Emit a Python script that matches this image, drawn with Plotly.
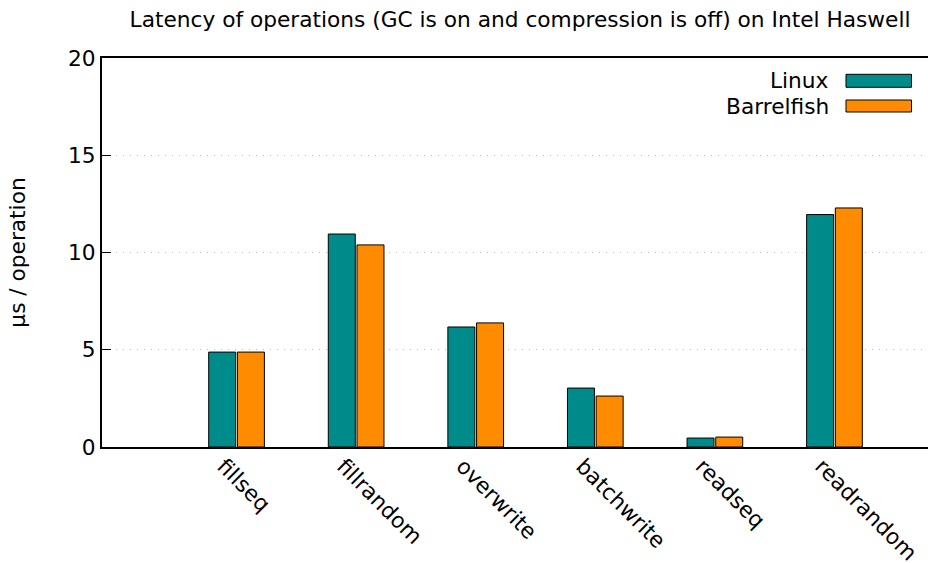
import plotly.graph_objects as go

categories = ["fillseq", "fillrandom", "overwrite", "batchwrite", "readseq", "readrandom"]
linux = [4.88, 10.95, 6.17, 3.03, 0.46, 11.95]
barrelfish = [4.88, 10.39, 6.38, 2.62, 0.51, 12.29]
series_names = ["Linux", "Barrelfish"]
colors = ["#008B8B", "#FF8C00"]
ytick_vals = [0, 5, 10, 15, 20]

FONT = "DejaVu Sans"
FS = 21.7

FIG_W, FIG_H = 928, 563

x = list(range(len(categories)))

fig = go.Figure()
for name, vals, col in zip(series_names, [linux, barrelfish], colors):
    fig.add_trace(go.Bar(
        x=x, y=vals, name=name,
        marker=dict(color=col, line=dict(color="#000000", width=1)),
        showlegend=False,
    ))

# plot area in screen pixels
L, R, T, B = 102, 928, 58, 447
W, H = R - L, B - T
def px(xp):
    return (xp - L) / W
def py(yp):
    return (B - yp) / H

# manual gnuplot-style legend (text left, sample box to the right)
legend_rows = [(80.7, 74.3, 87.3), (106.0, 100.0, 112.0)]
shapes = []
annotations = []
for (yc, y0, y1), name, col in zip(legend_rows, series_names, colors):
    shapes.append(dict(type="rect", xref="paper", yref="paper",
                       x0=px(846), x1=px(911.5), y0=py(y1), y1=py(y0),
                       fillcolor=col, line=dict(color="#000000", width=1)))
    annotations.append(dict(xref="paper", yref="paper", x=px(831), y=py(yc),
                            xanchor="right", yanchor="middle", showarrow=False,
                            text=name, font=dict(family=FONT, size=FS, color="#000000")))

fig.update_layout(
    width=FIG_W, height=FIG_H,
    margin=dict(l=L, r=FIG_W - R, t=T, b=FIG_H - B, autoexpand=False),
    paper_bgcolor="white", plot_bgcolor="white",
    barmode="group", bargap=0.52, bargroupgap=0.06,
    font=dict(family=FONT, size=FS, color="#000000"),
    title=dict(text="Latency of operations (GC is on and compression is off) on Intel Haswell",
               x=520 / FIG_W, xref="container", xanchor="center",
               y=1 - 19 / FIG_H, yref="container", yanchor="middle",
               font=dict(family=FONT, size=FS, color="#000000")),
    shapes=shapes,
    annotations=annotations,
    xaxis=dict(
        range=[-1.125, 5.782], automargin=False,
        tickmode="array", tickvals=x, ticktext=categories,
        tickangle=45, ticks="", showgrid=False, zeroline=False,
        ticklabelshift=-13, ticklabelstandoff=-4,
        showline=True, linecolor="#000000", linewidth=2, mirror=True,
        tickfont=dict(family=FONT, size=FS),
    ),
    yaxis=dict(
        range=[0, 20], tickmode="array", tickvals=ytick_vals, automargin=False,
        ticks="inside", ticklen=9, tickcolor="#000000",
        showgrid=True, gridcolor="#bdbdbd", griddash="1px,6px", gridwidth=1,
        zeroline=False, showline=True, linecolor="#000000", linewidth=2,
        title=dict(text="µs / operation", standoff=36, font=dict(family=FONT, size=FS)),
        tickfont=dict(family=FONT, size=FS),
    ),
)

fig.write_html(
    "out.html",
    config={"displayModeBar": False},
    post_script=(
        "document.body.style.margin='0';"
        "document.body.style.overflow='hidden';"
        "document.documentElement.style.overflow='hidden';"
    ),
)
